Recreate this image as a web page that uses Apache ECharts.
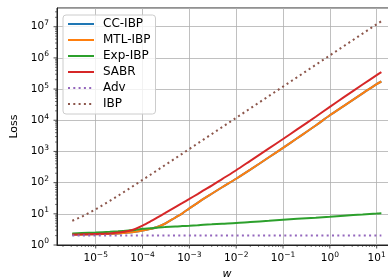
<!DOCTYPE html>
<html>
<head>
<meta charset="utf-8">
<script src="https://cdn.jsdelivr.net/npm/echarts@6/dist/echarts.min.js"></script>
<style>
  html, body { margin: 0; padding: 0; background: #fff; }
  #chart { width: 388px; height: 278px; }
</style>
</head>
<body>
<div id="chart"></div>
<script>
// w values (x axis)
const w = [3.16e-6, 5e-6, 1e-5, 2e-5, 3e-5, 5e-5, 7e-5, 1e-4, 1.5e-4, 2e-4, 3e-4, 5e-4, 7e-4,
  1e-3, 1.5e-3, 2e-3, 3e-3, 5e-3, 1e-2, 2e-2, 5e-2, 0.1, 0.2, 0.5, 1, 2, 5, 10, 12.6];

// loss per method
const ccIbp  = [2.18, 2.19, 2.22, 2.28, 2.35, 2.5, 2.65, 2.9, 3.3, 3.7, 4.8, 7.6, 10.2,
  15, 22.5, 30, 44, 71, 133, 260, 650, 1300, 2650, 6800, 1.45e4, 2.9e4, 7.3e4, 1.45e5, 1.75e5];
const mtlIbp = [2.18, 2.19, 2.22, 2.28, 2.35, 2.5, 2.65, 2.9, 3.3, 3.7, 4.8, 7.6, 10.2,
  15, 22.5, 30, 44, 71, 133, 260, 650, 1300, 2650, 6800, 1.45e4, 2.9e4, 7.3e4, 1.45e5, 1.75e5];
const expIbp = [2.35, 2.42, 2.52, 2.65, 2.75, 2.92, 3.05, 3.3, 3.45, 3.6, 3.75, 3.95, 4.05,
  4.15, 4.3, 4.45, 4.6, 4.8, 5.05, 5.45, 5.95, 6.45, 6.9, 7.5, 8.05, 8.7, 9.5, 10.2, 10.5];
const sabr   = [2.18, 2.2, 2.24, 2.35, 2.5, 2.8, 3.3, 4.2, 5.8, 7.4, 10.5, 16.5, 22,
  30, 43, 56, 80, 130, 250, 500, 1250, 2500, 5100, 1.3e4, 2.7e4, 5.5e4, 1.4e5, 2.8e5, 3.5e5];
const adv    = [2, 2, 2, 2, 2, 2, 2, 2, 2, 2, 2, 2, 2,
  2, 2, 2, 2, 2, 2, 2, 2, 2, 2, 2, 2, 2, 2, 2, 2];
const ibp    = [6.0, 8, 14, 26, 38, 62, 86, 122, 182, 242, 362, 600, 840,
  1200, 1800, 2400, 3600, 6000, 1.2e4, 2.4e4, 6e4, 1.2e5, 2.4e5, 6e5, 1.2e6, 2.4e6, 6e6, 1.2e7, 1.5e7];

const names = ['CC-IBP', 'MTL-IBP', 'Exp-IBP', 'SABR', 'Adv', 'IBP'];
const colors = ['#1f77b4', '#ff7f0e', '#2ca02c', '#d62728', '#9467bd', '#8c564b'];

const xMin = 1.49e-6, xMax = 26.9;
const yMin = 1, yMax = 3.98e7;

// tick positions (major decades + minor 2..9)
const xMajor = [1e-5, 1e-4, 1e-3, 1e-2, 1e-1, 1, 10];
const yMajor = [1, 10, 1e2, 1e3, 1e4, 1e5, 1e6, 1e7];
function minorTicks(lo, hi) {
  const out = [];
  for (let e = Math.floor(Math.log10(lo)); e <= Math.ceil(Math.log10(hi)); e++) {
    for (let k = 2; k <= 9; k++) {
      const v = k * Math.pow(10, e);
      if (v > lo && v < hi) out.push(v);
    }
  }
  return out;
}
const xMinor = minorTicks(xMin, xMax);
const yMinor = minorTicks(yMin, yMax);

const font = 'DejaVu Sans';
const ink = '#222';

function powLabel(v) {
  const l = Math.log10(v);
  const e = Math.round(l);
  if (Math.abs(l - e) > 1e-6) return '';
  return '{b|10}{s|' + String(e).replace('-', '\u2212') + '}';
}
const labelRich = {
  b: { fontSize: 10.5, fontFamily: font, color: '#000' },
  s: { fontSize: 7.5, fontFamily: font, color: '#000', padding: [0, 0, 7, 0] }
};

function lineSeries(name, vals, i, dotted) {
  return {
    name: name,
    type: 'line',
    data: w.map((x, j) => [x, vals[j]]),
    symbol: 'none',
    showSymbol: false,
    smooth: dotted ? false : 0.3,
    animation: false,
    lineStyle: { color: colors[i], width: 2, type: dotted ? [2, 3.3] : 'solid', cap: 'butt' },
    itemStyle: { color: colors[i] },
    z: 3 + i
  };
}

function tickSeries(vals, onX, len, width) {
  return {
    type: 'custom',
    silent: true,
    clip: false,
    animation: false,
    z: 20,
    data: vals.map(v => onX ? [v, yMin] : [xMin, v]),
    renderItem: function (params, api) {
      const p = api.coord([api.value(0), api.value(1)]);
      return {
        type: 'line',
        shape: onX
          ? { x1: p[0], y1: p[1], x2: p[0], y2: p[1] + len }
          : { x1: p[0] - len, y1: p[1], x2: p[0], y2: p[1] },
        style: { stroke: ink, lineWidth: width }
      };
    }
  };
}

const chart = echarts.init(document.getElementById('chart'), null, { renderer: 'canvas' });
chart.setOption({
  animation: false,
  grid: {
    left: 57, right: -8.8, top: 8, bottom: 33,
    outerBoundsMode: 'none', containLabel: false,
    show: true, borderColor: ink, borderWidth: 1
  },
  legend: {
    data: names,
    orient: 'vertical',
    left: 63,
    top: 15,
    itemWidth: 26,
    itemHeight: 14,
    itemGap: 4,
    padding: [3, 5, 4, 4],
    backgroundColor: 'rgba(255,255,255,0.8)',
    borderColor: '#cccccc',
    borderWidth: 1,
    borderRadius: 3,
    itemStyle: { opacity: 0 },
    textStyle: { fontSize: 12, fontFamily: font, color: '#000', padding: [0, 0, 0, 4] },
    z: 30
  },
  xAxis: {
    type: 'log',
    min: xMin,
    max: xMax,
    name: 'w',
    nameLocation: 'middle',
    nameGap: 22,
    nameTextStyle: { fontSize: 11, fontFamily: font, fontStyle: 'italic', color: '#000' },
    axisLine: { show: true, lineStyle: { color: ink, width: 1 } },
    axisTick: { show: false },
    axisLabel: { formatter: powLabel, rich: labelRich, margin: 6, showMinLabel: false, showMaxLabel: false },
    splitLine: { show: true, lineStyle: { color: '#b0b0b0', width: 0.8 } },
    minorTick: { show: false }
  },
  yAxis: {
    type: 'log',
    min: yMin,
    max: yMax,
    name: 'Loss',
    nameLocation: 'middle',
    nameGap: 36,
    nameTextStyle: { fontSize: 11, fontFamily: font, color: '#000' },
    axisLine: { show: true, lineStyle: { color: ink, width: 1 } },
    axisTick: { show: false },
    axisLabel: { formatter: powLabel, rich: labelRich, margin: 8, showMaxLabel: false },
    splitLine: { show: true, lineStyle: { color: '#b0b0b0', width: 0.8 } }
  },
  series: [
    lineSeries(names[0], ccIbp, 0, false),
    lineSeries(names[1], mtlIbp, 1, false),
    lineSeries(names[2], expIbp, 2, false),
    lineSeries(names[3], sabr, 3, false),
    lineSeries(names[4], adv, 4, true),
    lineSeries(names[5], ibp, 5, true),
    tickSeries(xMajor, true, 3.5, 0.8),
    tickSeries(xMinor, true, 2, 0.6),
    tickSeries(yMajor, false, 3.5, 0.8),
    tickSeries(yMinor, false, 2, 0.6)
  ]
});
</script>
</body>
</html>
